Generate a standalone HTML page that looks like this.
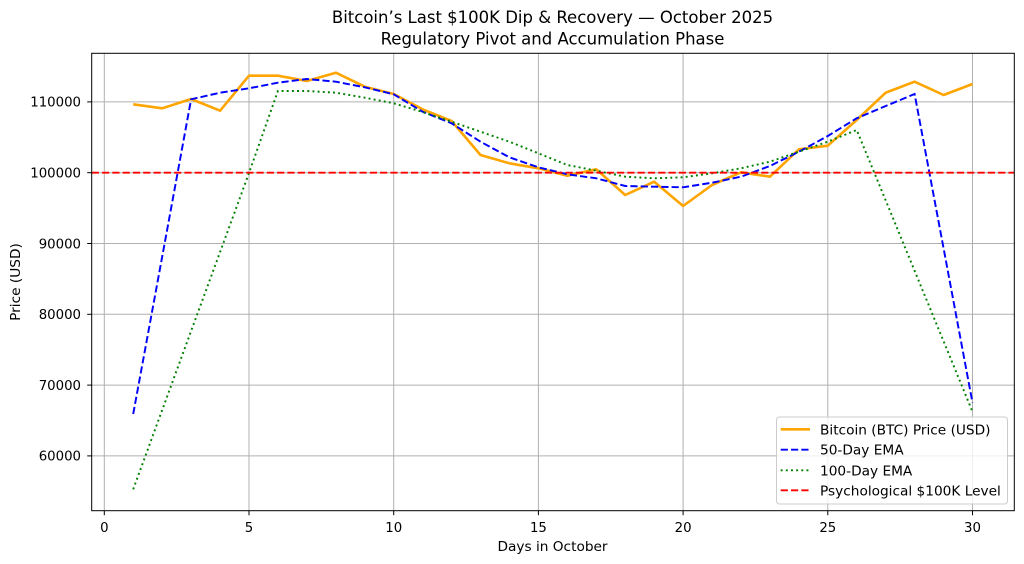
<!DOCTYPE html>
<html><head><meta charset="utf-8"><style>
html,body{margin:0;padding:0;background:#fff;}
svg{display:block;}
text{font-family:"DejaVu Sans","Liberation Sans",sans-serif;fill:#000;}
</style></head><body>
<svg width="1024" height="564" viewBox="0 0 1024 564" xmlns="http://www.w3.org/2000/svg">
<rect x="0" y="0" width="1024" height="564" fill="#fff"/>
<!-- title -->
<text x="552.5" y="23" font-size="16.5" text-anchor="middle">Bitcoin’s Last $100K Dip &amp; Recovery — October 2025</text>
<text x="552.5" y="44.5" font-size="16.5" text-anchor="middle">Regulatory Pivot and Accumulation Phase</text>
<!-- grid -->
<g stroke="#b0b0b0" stroke-width="1">
<line x1="104.3" y1="53.3" x2="104.3" y2="510.7"/>
<line x1="249" y1="53.3" x2="249" y2="510.7"/>
<line x1="393.7" y1="53.3" x2="393.7" y2="510.7"/>
<line x1="538.4" y1="53.3" x2="538.4" y2="510.7"/>
<line x1="683.1" y1="53.3" x2="683.1" y2="510.7"/>
<line x1="827.8" y1="53.3" x2="827.8" y2="510.7"/>
<line x1="972.5" y1="53.3" x2="972.5" y2="510.7"/>
<line x1="91.7" y1="101.9" x2="1014.3" y2="101.9"/>
<line x1="91.7" y1="172.7" x2="1014.3" y2="172.7"/>
<line x1="91.7" y1="243.5" x2="1014.3" y2="243.5"/>
<line x1="91.7" y1="314.3" x2="1014.3" y2="314.3"/>
<line x1="91.7" y1="385.1" x2="1014.3" y2="385.1"/>
<line x1="91.7" y1="455.9" x2="1014.3" y2="455.9"/>
</g>
<!-- series -->
<polyline fill="none" stroke="#FFA500" stroke-width="2.6" stroke-linejoin="round" points="133.2,104.3 162.2,108.3 191.1,99 220.1,110.7 249,75.7 277.9,75.7 306.9,81 335.9,72.7 364.8,86.7 393.7,94 422.6,109.3 451.6,121 480.5,155 509.4,163.3 538.4,168.3 567.3,175.7 596.3,169.3 625.2,195 654.2,181.7 683.1,206 712,185 741,172.3 769.9,176.7 798.9,149.3 827.8,145.7 856.7,120 885.7,92.7 914.6,81.7 943.6,95 972.5,84"/>
<polyline fill="none" stroke="#0000ff" stroke-width="1.95" stroke-dasharray="7.2 3.1" points="133.2,414 162.2,256.7 191.1,99.3 220.1,92.7 249,88.3 277.9,82.7 306.9,79 335.9,81.7 364.8,87.3 393.7,94.3 422.6,111.7 451.6,123.3 480.5,141.7 509.4,157.3 538.4,167.3 567.3,174.3 596.3,178.3 625.2,186 654.2,186.7 683.1,187.3 712,182.7 741,176.7 769.9,166 798.9,151.7 827.8,136 856.7,118.3 885.7,106 914.6,94 943.6,248.4 972.5,402.7"/>
<polyline fill="none" stroke="#008000" stroke-width="1.95" stroke-dasharray="1.95 3.2" points="133.2,489.3 162.2,410 191.1,331 220.1,252 249,173 277.9,91 306.9,91 335.9,92.7 364.8,97.7 393.7,103.3 422.6,112 451.6,121.7 480.5,131.7 509.4,141.7 538.4,153.3 567.3,165 596.3,170.7 625.2,176.7 654.2,178.3 683.1,177.3 712,173.3 741,168.3 769.9,161.7 798.9,151.7 827.8,141.7 856.7,130 885.7,200.4 914.6,270.8 943.6,341.3 972.5,411.7"/>
<line x1="91.7" y1="172.7" x2="1014.3" y2="172.7" stroke="#ff0000" stroke-width="1.95" stroke-dasharray="7.2 3.1"/>
<!-- spines -->
<rect x="91.7" y="53.3" width="922.6" height="457.4" fill="none" stroke="#000" stroke-width="1"/>
<!-- ticks -->
<g stroke="#000" stroke-width="1">
<line x1="104.3" y1="510.7" x2="104.3" y2="515.2"/>
<line x1="249" y1="510.7" x2="249" y2="515.2"/>
<line x1="393.7" y1="510.7" x2="393.7" y2="515.2"/>
<line x1="538.4" y1="510.7" x2="538.4" y2="515.2"/>
<line x1="683.1" y1="510.7" x2="683.1" y2="515.2"/>
<line x1="827.8" y1="510.7" x2="827.8" y2="515.2"/>
<line x1="972.5" y1="510.7" x2="972.5" y2="515.2"/>
<line x1="87.2" y1="101.9" x2="91.7" y2="101.9"/>
<line x1="87.2" y1="172.7" x2="91.7" y2="172.7"/>
<line x1="87.2" y1="243.5" x2="91.7" y2="243.5"/>
<line x1="87.2" y1="314.3" x2="91.7" y2="314.3"/>
<line x1="87.2" y1="385.1" x2="91.7" y2="385.1"/>
<line x1="87.2" y1="455.9" x2="91.7" y2="455.9"/>
</g>
<g font-size="13.3" text-anchor="middle">
<text x="104.3" y="532">0</text>
<text x="249" y="532">5</text>
<text x="393.7" y="532">10</text>
<text x="538.4" y="532">15</text>
<text x="683.1" y="532">20</text>
<text x="827.8" y="532">25</text>
<text x="972.5" y="532">30</text>
</g>
<g font-size="13.3" text-anchor="end">
<text x="81" y="106.7">110000</text>
<text x="81" y="177.5">100000</text>
<text x="81" y="248.3">90000</text>
<text x="81" y="319.1">80000</text>
<text x="81" y="389.9">70000</text>
<text x="81" y="460.7">60000</text>
</g>
<text x="552.5" y="551" font-size="13.7" text-anchor="middle">Days in October</text>
<text transform="translate(20,282) rotate(-90)" font-size="13.7" text-anchor="middle">Price (USD)</text>
<!-- legend -->
<rect x="776.5" y="417" width="231" height="87" rx="3" fill="#fff" fill-opacity="0.8" stroke="#cccccc" stroke-width="1"/>
<line x1="780.7" y1="429.3" x2="810" y2="429.3" stroke="#FFA500" stroke-width="2.6"/>
<line x1="780.7" y1="449.7" x2="810" y2="449.7" stroke="#0000ff" stroke-width="1.95" stroke-dasharray="7.2 3.1"/>
<line x1="780.7" y1="470.3" x2="810" y2="470.3" stroke="#008000" stroke-width="1.95" stroke-dasharray="1.95 3.2"/>
<line x1="780.7" y1="490.3" x2="810" y2="490.3" stroke="#ff0000" stroke-width="1.95" stroke-dasharray="7.2 3.1"/>
<g font-size="13.7">
<text x="820" y="434.3">Bitcoin (BTC) Price (USD)</text>
<text x="820" y="454.7">50-Day EMA</text>
<text x="820" y="475.3">100-Day EMA</text>
<text x="820" y="495.3">Psychological $100K Level</text>
</g>
</svg>
</body></html>
